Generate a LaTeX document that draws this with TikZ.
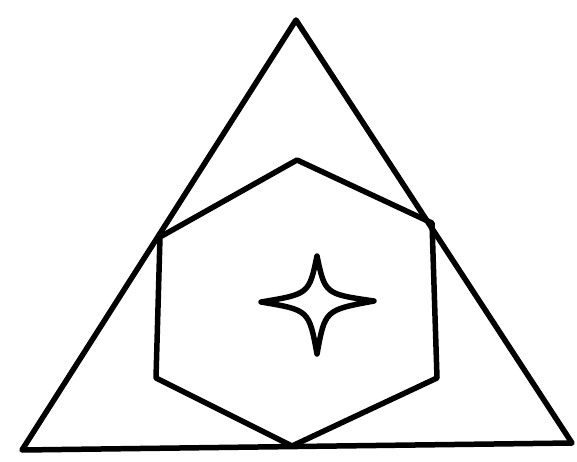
\documentclass[tikz,border=0pt]{standalone}
\usetikzlibrary{positioning, calc}
\begin{document}
\begin{tikzpicture}[
    x=1pt, y=-1pt,
    outline/.style={draw=black, line width=5.5pt, line join=round, line cap=round},
    starline/.style={draw=black, line width=5.5pt, line join=round},
]
\useasboundingbox (0,0) rectangle (577,462);

% --- Outer triangle ---
\coordinate (apex)  at (296, 20);
\coordinate (baseL) at (22, 450);
\coordinate (baseR) at (572, 443);
\draw[outline] (apex) -- (baseR) -- (baseL) -- cycle;

% --- Hexagon (lower vertex sits on the base) ---
\coordinate (hxT)  at (297, 160);
\coordinate (hxUR) at (432, 223);
\coordinate (hxLR) at (437, 378);
\coordinate (hxB)  at (292, 446);
\coordinate (hxLL) at (156, 378);
\coordinate (hxUL) at (160, 237);
\draw[outline] (hxT) -- (hxUR) -- (hxLR) -- (hxB) -- (hxLL) -- (hxUL) -- cycle;

% --- Four-pointed star in the middle ---
\coordinate (stC) at (317, 302);
\coordinate (stT) at (317, 256);
\coordinate (stR) at (374, 301);
\coordinate (stB) at (317, 354);
\coordinate (stL) at (261, 302);
\draw[starline]
    (stT) .. controls ($(stC)+(8,-8)$) .. (stR)
          .. controls ($(stC)+(8,8)$) .. (stB)
          .. controls ($(stC)+(-8,8)$) .. (stL)
          .. controls ($(stC)+(-8,-8)$) .. cycle;

\end{tikzpicture}
\end{document}
